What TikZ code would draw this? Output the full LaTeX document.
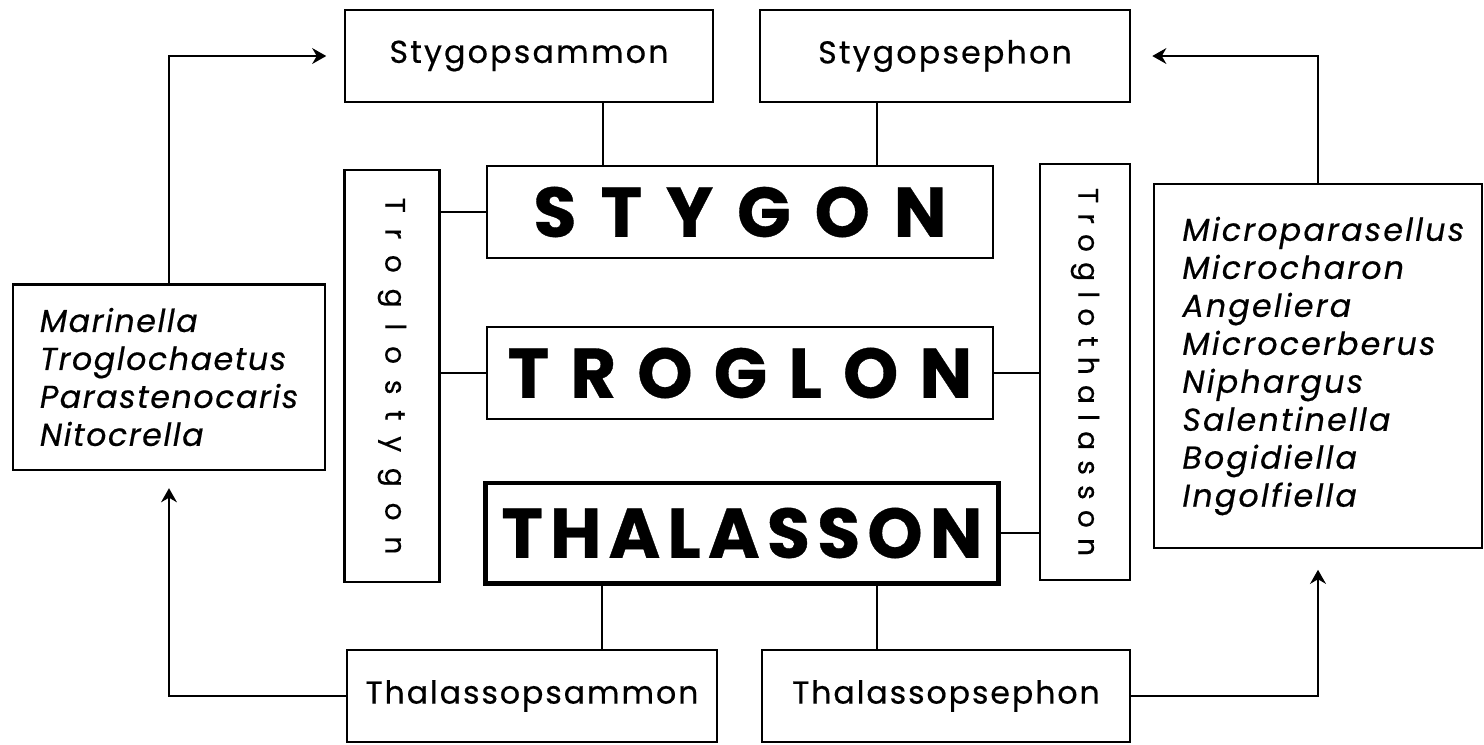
\documentclass[tikz,border=0pt]{standalone}
\usepackage{fontspec}
\setmainfont{Poppins}
\usetikzlibrary{arrows.meta,calc}
\newcommand\spc[1]{\addfontfeatures{LetterSpace=#1,FakeBold=0.5}}

\begin{document}
\begin{tikzpicture}[x=0.01cm,y=-0.01cm,
  b/.style={draw,line width=0.6pt,inner sep=0pt,minimum height=0.92cm,font=\fontsize{9}{11}\selectfont},
  big/.style={draw,line width=0.6pt,inner sep=0pt,minimum width=5.05cm,minimum height=0.92cm,font=\fontsize{20}{24}\selectfont\bfseries},
  vert/.style={draw,line width=0.6pt,inner sep=0pt,rotate=-90,font=\fontsize{8}{9}\selectfont},
  lst/.style={draw,line width=0.6pt,inner ysep=0pt,align=left,font=\fontsize{9}{10.8}\selectfont\itshape},
  ln/.style={line width=0.6pt},
  arr/.style={-{Stealth[length=4pt,width=4.5pt]},line width=0.6pt}]
\useasboundingbox (0,0) rectangle (1484,744);
% top row
\node[b,minimum width=3.68cm] (stpsam) at (529,56) {\spc{7}Stygopsammon};
\node[b,minimum width=3.70cm] (stpseph) at (945,56) {\spc{7}Stygopsephon};
% centre column
\node[big] (stygon) at (740,212) {\spc{34}STYGON};
\node[big] (troglon) at (740,373) {\spc{30}TROGLON};
\node[big,line width=1.4pt,minimum width=5.13cm,minimum height=1.0cm] (thal) at (742,533) {\spc{10}THALASSON};
\node[vert,minimum width=4.12cm,minimum height=0.95cm] (trsty) at (392,376) {\spc{56}Troglostygon};
\node[vert,minimum width=4.15cm,minimum height=0.90cm] (trthal) at (1085,372) {\spc{36}Troglothalasson};
% species lists
\node[lst,minimum width=3.12cm,minimum height=1.85cm,inner xsep=0.27cm,text width=2.58cm] (lft) at (169,377)
  {\spc{5}Marinella\\Troglochaetus\\Parastenocaris\\Nitocrella};
\node[lst,minimum width=3.27cm,minimum height=3.63cm,inner xsep=0.28cm,text width=2.71cm] (rgt) at (1318,366)
  {\spc{7}Microparasellus\\Microcharon\\Angeliera\\Microcerberus\\Niphargus\\Salentinella\\Bogidiella\\Ingolfiella};
% bottom row
\node[b,minimum width=3.69cm] (thpsam) at (532,696) {\spc{6}Thalassopsammon};
\node[b,minimum width=3.68cm] (thpseph) at (946,696) {\spc{6}Thalassopsephon};
% vertical links
\coordinate (s1) at ($(stygon.north west)!0.23!(stygon.north east)$);
\coordinate (s2) at ($(stygon.north west)!0.77!(stygon.north east)$);
\coordinate (t1) at ($(thal.south west)!0.23!(thal.south east)$);
\coordinate (t2) at ($(thal.south west)!0.76!(thal.south east)$);
\draw[ln] (s1) -- (s1 |- stpsam.south);
\draw[ln] (s2) -- (s2 |- stpseph.south);
\draw[ln] (t1) -- (t1 |- thpsam.north);
\draw[ln] (t2) -- (t2 |- thpseph.north);
% side links
\draw[ln] (stygon.west) -- (stygon.west -| trsty.north);
\draw[ln] (troglon.west) -- (troglon.west -| trsty.north);
\draw[ln] (troglon.east) -- (troglon.east -| trthal.south);
\draw[ln] (thal.east) -- (thal.east -| trthal.south);
% arrows
\draw[arr,shorten >=5pt] (lft.north) |- (stpsam.west);
\draw[arr,shorten >=5pt] (thpsam.west) -| (lft.south);
\draw[arr,shorten >=6pt] (rgt.north) |- (stpseph.east);
\draw[arr,shorten >=6pt] (thpseph.east) -| (rgt.south);
\end{tikzpicture}
\end{document}
